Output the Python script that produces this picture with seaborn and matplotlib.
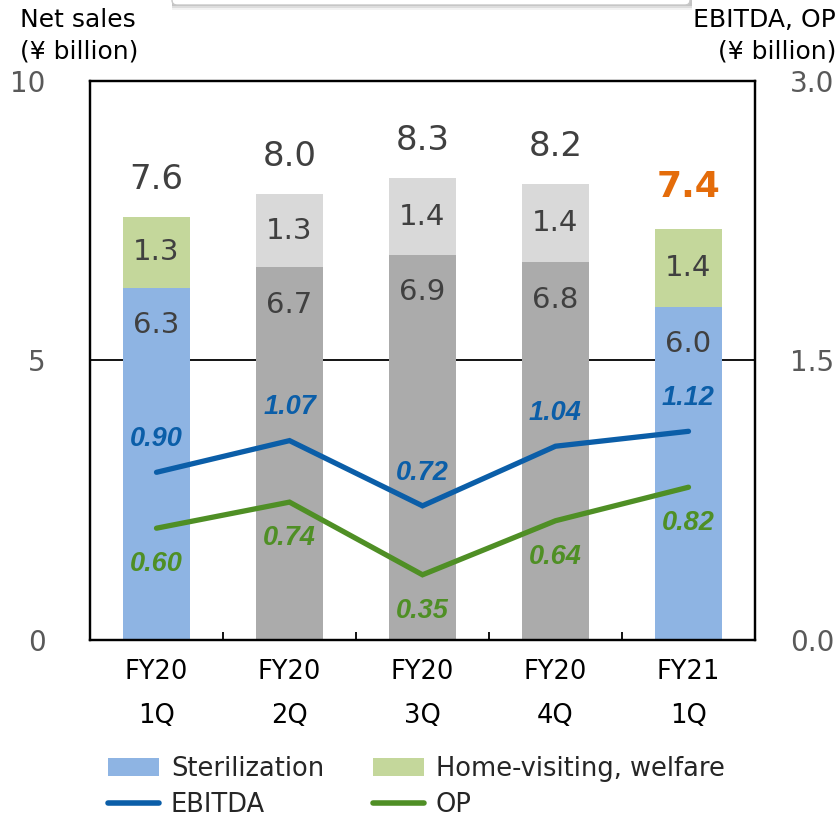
import numpy as np
import pandas as pd
import matplotlib
matplotlib.use("Agg")
import matplotlib.pyplot as plt
from matplotlib.patches import Patch, FancyBboxPatch, Rectangle
from matplotlib.lines import Line2D
import seaborn as sns

# ---------------- data ----------------
quarters = ["FY20\n1Q", "FY20\n2Q", "FY20\n3Q", "FY20\n4Q", "FY21\n1Q"]
sterilization = [6.30, 6.67, 6.89, 6.76, 5.96]
home_visiting = [1.27, 1.31, 1.37, 1.40, 1.40]
ebitda = [0.90, 1.07, 0.72, 1.04, 1.12]
op = [0.60, 0.74, 0.35, 0.64, 0.82]
left_ticks = [0, 5, 10]
left_tick_labels = ["0", "5", "10"]
right_ticks = [0.0, 1.5, 3.0]
right_tick_labels = ["0.0", "1.5", "3.0"]

# ---------------- style ----------------
C_STER = "#8eb4e3"
C_HOME = "#c4d79b"
C_GREY_D = "#ababab"
C_GREY_L = "#d9d9d9"
C_EBITDA = "#0b5ea8"
C_OP = "#4f8f25"
C_TXT = "#404040"
C_TICK = "#595959"
C_ORANGE = "#e46c0a"

sns.set_theme(style="white")
plt.rcParams["font.family"] = ["DejaVu Sans"]

df = pd.DataFrame({
    "quarter": quarters,
    "sterilization": sterilization,
    "home": home_visiting,
})
df["total"] = df["sterilization"] + df["home"]

highlight = [True, False, False, False, True]
ster_pal = {q: (C_STER if h else C_GREY_D) for q, h in zip(quarters, highlight)}
home_pal = {q: (C_HOME if h else C_GREY_L) for q, h in zip(quarters, highlight)}

fig = plt.figure(figsize=(8.4, 8.18), dpi=100)
ax = fig.add_axes([90 / 840, 178 / 818, 665 / 840, 559 / 818])

sns.barplot(data=df, x="quarter", y="total", hue="quarter", palette=home_pal,
            width=0.5, saturation=1, legend=False, ax=ax, zorder=2,
            linewidth=0, edgecolor="none")
sns.barplot(data=df, x="quarter", y="sterilization", hue="quarter", palette=ster_pal,
            width=0.5, saturation=1, legend=False, ax=ax, zorder=2,
            linewidth=0, edgecolor="none")

ax.set_xlim(-0.5, len(quarters) - 0.5)
ax.set_ylim(0, 10)
ax.set_xlabel("")
ax.set_ylabel("")
ax.set_yticks(left_ticks)
ax.set_yticklabels(left_tick_labels)
ax.tick_params(axis="y", length=0, pad=32, labelsize=20, labelcolor=C_TICK)
ax.set_xticks(range(len(quarters)))
ax.set_xticklabels(quarters, linespacing=1.9)
ax.tick_params(axis="x", which="major", length=0, pad=14, labelsize=18.5, labelcolor="black")
ax.set_xticks(np.arange(len(quarters) - 1) + 0.5, minor=True)
ax.tick_params(axis="x", which="minor", direction="in", length=6, width=1.3, color="black", bottom=True)
ax.set_axisbelow(True)
ax.axhline(5, color="black", lw=1.3, zorder=1)
for s in ax.spines.values():
    s.set_visible(True)
    s.set_color("black")
    s.set_linewidth(1.6)

# bar labels
for i, row in df.iterrows():
    s, h, t = row["sterilization"], row["home"], row["total"]
    ax.annotate(f"{s:.1f}", (i, s), xytext=(0, -27), textcoords="offset points",
                ha="center", va="center", fontsize=21, color=C_TXT, zorder=5)
    ax.annotate(f"{h:.1f}", (i, s + h / 2), ha="center", va="center",
                fontsize=21, color=C_TXT, zorder=5)
    if i == len(df) - 1:
        ax.annotate(f"{t:.1f}", (i, t), xytext=(0, 30), textcoords="offset points",
                    ha="center", va="center", fontsize=26, fontweight="bold",
                    color=C_ORANGE, zorder=5)
    else:
        ax.annotate(f"{t:.1f}", (i, t), xytext=(0, 27), textcoords="offset points",
                    ha="center", va="center", fontsize=24.5, color=C_TXT, zorder=5)

# secondary axis lines
ax2 = ax.twinx()
xpos = np.arange(len(quarters))
sns.lineplot(x=xpos, y=ebitda, color=C_EBITDA, lw=3.8, ax=ax2,
             solid_capstyle="round", solid_joinstyle="miter")
sns.lineplot(x=xpos, y=op, color=C_OP, lw=3.8, ax=ax2,
             solid_capstyle="round", solid_joinstyle="miter")
ax2.set_ylim(0, 3.0)
ax2.set_xlim(-0.5, len(quarters) - 0.5)
ax2.set_yticks(right_ticks)
ax2.set_yticklabels(right_tick_labels)
ax2.tick_params(axis="y", length=0, pad=25, labelsize=20, labelcolor=C_TICK)
ax2.grid(False)
for s in ax2.spines.values():
    s.set_visible(True)
    s.set_color("black")
    s.set_linewidth(1.6)

for i in range(len(quarters)):
    ax2.annotate(f"{ebitda[i]:.2f}", (i, ebitda[i]), xytext=(0, 24), textcoords="offset points",
                 ha="center", va="center", fontsize=19.5, fontweight="bold", fontstyle="italic",
                 family=["Liberation Sans", "DejaVu Sans"], color=C_EBITDA)
    ax2.annotate(f"{op[i]:.2f}", (i, op[i]), xytext=(0, -26), textcoords="offset points",
                 ha="center", va="center", fontsize=19.5, fontweight="bold", fontstyle="italic",
                 family=["Liberation Sans", "DejaVu Sans"], color=C_OP)

# axis titles
fig.text(20 / 840, 1 - 20 / 818, "Net sales", ha="left", va="center", fontsize=18, color="black")
fig.text(20 / 840, 1 - 52 / 818, "(¥ billion)", ha="left", va="center", fontsize=18, color="black")
fig.text(836 / 840, 1 - 20 / 818, "EBITDA, OP", ha="right", va="center", fontsize=18, color="black")
fig.text(836 / 840, 1 - 52 / 818, "(¥ billion)", ha="right", va="center", fontsize=18, color="black")

# decorative cropped box at top
for k, a in enumerate([0.10, 0.18, 0.28]):
    fig.patches.append(Rectangle((172 / 840, 1 - (10 - 2 * k) / 818), 520 / 840, 0.05,
                                 transform=fig.transFigure, facecolor="#808080",
                                 edgecolor="none", alpha=a, zorder=0))
fig.patches.append(FancyBboxPatch((172 / 840, 1 - 5 / 818), 518 / 840, 0.05,
                                  boxstyle="round,pad=0,rounding_size=0.006",
                                  transform=fig.transFigure, facecolor="white",
                                  edgecolor="#c8c8c8", lw=1, zorder=1))

# legend
handles = [
    Patch(facecolor=C_STER, edgecolor="none"),
    Line2D([0], [0], color=C_EBITDA, lw=4),
    Patch(facecolor=C_HOME, edgecolor="none"),
    Line2D([0], [0], color=C_OP, lw=4),
]
labels = ["Sterilization", "EBITDA", "Home-visiting, welfare", "OP"]
fig.legend(handles, labels, loc="upper left", bbox_to_anchor=(108 / 840, 1 - 756 / 818),
           ncol=2, frameon=False, fontsize=18.5, handlelength=2.0, handleheight=0.7,
           handletextpad=0.45, columnspacing=1.9, labelspacing=0.4,
           borderpad=0, borderaxespad=0)

fig.savefig("out.png", dpi=100)
